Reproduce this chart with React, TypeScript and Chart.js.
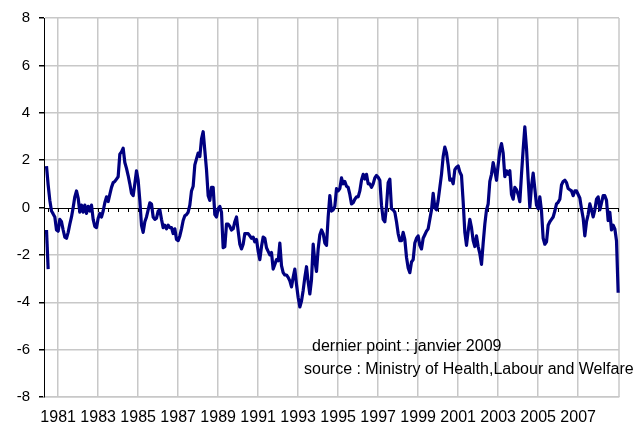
import React, { useEffect, useRef } from 'react';
import { Chart, registerables } from 'chart.js';

Chart.register(...registerables);

// Monthly categories: May 1980 (empty) .. January 2009
const START_YEAR = 1980;
const START_MONTH = 5;
const MONTH_COUNT = 345;
const monthLabels: string[] = Array.from({ length: MONTH_COUNT }, (_, k) => {
  const m = START_MONTH - 1 + k;
  const y = START_YEAR + Math.floor(m / 12);
  const mm = (m % 12) + 1;
  return `${y}-${String(mm).padStart(2, '0')}`;
});

const yearTickLabels = ['1981', '1983', '1985', '1987', '1989', '1991', '1993', '1995', '1997', '1999', '2001', '2003', '2005', '2007'];
const yTickValues = [-8, -6, -4, -2, 0, 2, 4, 6, 8];

// Short separate segment at the very start
const leadSegment = [null, -0.95, -2.6];

// Main series, by year (1980 starts in May with an empty month)
const v1980 = [null, 1.75, 0.95, 0.3, -0.15, -0.27, -0.4, -0.95];
const v1981 = [-1.0, -0.5, -0.6, -0.95, -1.25, -1.3, -1.05, -0.7, -0.4, 0.0, 0.45, 0.7];
const v1982 = [0.4, -0.2, 0.1, -0.2, 0.1, -0.25, 0.05, -0.15, 0.1, -0.5, -0.8, -0.85];
const v1983 = [-0.45, -0.25, -0.4, -0.15, 0.2, 0.45, 0.25, 0.55, 0.85, 1.05, 1.1, 1.2];
const v1984 = [1.3, 2.25, 2.35, 2.5, 1.9, 1.65, 1.35, 1.0, 0.6, 0.5, 1.0, 1.55];
const v1985 = [1.15, 0.3, -0.75, -1.05, -0.6, -0.4, -0.1, 0.2, 0.15, -0.4, -0.5, -0.45];
const v1986 = [-0.15, -0.1, -0.5, -0.85, -0.75, -0.9, -0.75, -0.85, -0.85, -1.1, -0.9, -1.35];
const v1987 = [-1.4, -1.2, -0.9, -0.55, -0.35, -0.3, -0.2, 0.1, 0.7, 0.9, 1.8, 2.05];
const v1988 = [2.3, 2.15, 2.9, 3.2, 2.4, 1.6, 0.5, 0.3, 0.85, 0.85, -0.3, -0.4];
const v1989 = [-0.05, 0.05, -0.2, -1.7, -1.65, -0.7, -0.7, -0.8, -0.95, -0.9, -0.6, -0.4];
const v1990 = [-1.0, -1.55, -1.75, -1.55, -1.1, -1.1, -1.1, -1.2, -1.3, -1.25, -1.45, -1.35];
const v1991 = [-1.85, -2.2, -1.65, -1.25, -1.3, -1.7, -1.85, -2.0, -1.9, -2.6, -2.4, -2.2];
const v1992 = [-2.25, -1.5, -2.45, -2.75, -2.85, -2.85, -2.95, -3.1, -3.35, -2.95, -2.6, -3.25];
const v1993 = [-3.8, -4.2, -3.95, -3.5, -2.95, -2.5, -3.15, -3.65, -3.05, -1.55, -2.25, -2.7];
const v1994 = [-1.75, -1.15, -0.95, -1.1, -1.5, -1.6, -0.4, 0.5, -0.15, -0.1, 0.05, 0.8];
const v1995 = [0.7, 0.8, 1.25, 1.0, 1.1, 0.9, 0.85, 0.55, 0.15, 0.2, 0.35, 0.45];
const v1996 = [0.45, 0.7, 1.15, 1.4, 1.2, 1.4, 1.0, 1.0, 0.85, 1.0, 1.25, 1.35];
const v1997 = [1.27, 1.15, 0.1, -0.5, -0.6, 0.05, 1.05, 1.2, -0.05, -0.1, -0.2, -0.6];
const v1998 = [-1.1, -1.4, -1.4, -1.05, -1.35, -2.1, -2.55, -2.75, -2.3, -2.2, -1.5, -1.3];
const v1999 = [-1.2, -1.6, -1.75, -1.3, -1.15, -1.0, -0.9, -0.5, -0.1, 0.6, 0.0, -0.1];
const v2000 = [0.3, 0.85, 1.4, 2.15, 2.55, 2.3, 1.8, 1.15, 1.2, 1.0, 1.6, 1.7];
const v2001 = [1.75, 1.5, 1.35, 0.25, -1.05, -1.6, -1.0, -0.5, -0.85, -1.4, -1.65, -1.2];
const v2002 = [-1.65, -1.95, -2.4, -1.5, -0.7, -0.1, 0.15, 1.1, 1.4, 1.9, 1.55, 1.15];
const v2003 = [1.8, 2.4, 2.7, 2.3, 1.3, 1.55, 1.4, 1.55, 0.55, 0.35, 0.85, 0.75];
const v2004 = [0.55, 0.25, 1.4, 2.45, 3.4, 2.5, 1.2, 0.0, 0.9, 1.45, 0.8, 0.1];
const v2005 = [-0.05, 0.45, -0.15, -1.3, -1.55, -1.45, -0.75, -0.6, -0.5, -0.4, -0.15, 0.15];
const v2006 = [0.22, 0.35, 0.95, 1.1, 1.15, 1.05, 0.8, 0.75, 0.7, 0.5, 0.7, 0.7];
const v2007 = [0.55, 0.4, -0.05, -0.45, -1.2, -0.6, -0.3, 0.15, -0.1, -0.4, -0.1, 0.35];
const v2008 = [0.45, -0.1, 0.2, 0.5, 0.5, 0.3, -0.55, -0.2, -0.95, -0.75, -0.9, -1.4];
const v2009 = [-3.6];

const mainSeries = [
  ...v1980, ...v1981, ...v1982, ...v1983, ...v1984, ...v1985, ...v1986, ...v1987,
  ...v1988, ...v1989, ...v1990, ...v1991, ...v1992, ...v1993, ...v1994, ...v1995,
  ...v1996, ...v1997, ...v1998, ...v1999, ...v2000, ...v2001, ...v2002, ...v2003,
  ...v2004, ...v2005, ...v2006, ...v2007, ...v2008, ...v2009,
];

const noteLines = ['dernier point : janvier 2009', 'source : Ministry of Health,Labour and Welfare'];

const FONT = '"Liberation Sans", Arial, sans-serif';
const LINE_COLOR = '#000080';
const GRID_COLOR = '#c8c8c8';

const decorPlugin = {
  id: 'decor',
  beforeDatasetsDraw(chart: any) {
    const { ctx, chartArea } = chart;
    const y = chart.scales.y.getPixelForValue(0);
    const xs = chart.scales.x;
    ctx.save();
    // right border
    ctx.strokeStyle = GRID_COLOR;
    ctx.lineWidth = 1.5;
    ctx.beginPath();
    ctx.moveTo(chartArea.right, chartArea.top);
    ctx.lineTo(chartArea.right, chartArea.bottom);
    ctx.stroke();
    // zero axis with half-year ticks
    ctx.strokeStyle = '#000';
    ctx.lineWidth = 1;
    ctx.beginPath();
    ctx.moveTo(chartArea.left, Math.round(y) + 0.5);
    ctx.lineTo(chartArea.right, Math.round(y) + 0.5);
    monthLabels.forEach((lab, i) => {
      const mm = lab.slice(5);
      if (mm === '01' || mm === '07') {
        const x = Math.round(xs.getPixelForValue(i)) + 0.5;
        ctx.moveTo(x, Math.round(y));
        ctx.lineTo(x, Math.round(y) + 4);
      }
    });
    ctx.stroke();
    ctx.restore();
  },
  afterDraw(chart: any) {
    const { ctx } = chart;
    ctx.save();
    ctx.font = `16px ${FONT}`;
    ctx.fillStyle = '#000';
    ctx.textAlign = 'left';
    ctx.textBaseline = 'alphabetic';
    ctx.fillText(noteLines[0], 312, 351);
    ctx.fillText(noteLines[1], 304, 374);
    ctx.restore();
  },
};

export default function App() {
  const ref = useRef<HTMLCanvasElement | null>(null);
  useEffect(() => {
    document.body.style.margin = '0';
    if (!ref.current) return;
    const chart = new Chart(ref.current, {
      type: 'line',
      data: {
        labels: monthLabels,
        datasets: [
          {
            data: mainSeries as any,
            borderColor: LINE_COLOR,
            borderWidth: 3.2,
            pointRadius: 0,
            tension: 0,
            borderJoinStyle: 'round',
            spanGaps: false,
          },
          {
            data: leadSegment as any,
            borderColor: LINE_COLOR,
            borderWidth: 3.2,
            pointRadius: 0,
            tension: 0,
          },
        ],
      },
      options: {
        responsive: false,
        animation: false,
        devicePixelRatio: 1,
        layout: { padding: { left: 0, top: 14, right: 25, bottom: 0 } },
        plugins: { legend: { display: false }, tooltip: { enabled: false } },
        scales: {
          x: {
            type: 'category',
            offset: true,
            afterBuildTicks: (scale: any) => {
              scale.ticks = scale.ticks.filter((t: any) => {
                const lab = monthLabels[t.value];
                return lab && lab.endsWith('-01') && yearTickLabels.includes(lab.slice(0, 4));
              });
            },
            afterFit: (scale: any) => {
              scale.height = 28;
            },
            ticks: {
              autoSkip: false,
              maxRotation: 0,
              minRotation: 0,
              padding: 11,
              color: '#000',
              font: { family: FONT, size: 16 },
              callback: (value: any) => monthLabels[value as number].slice(0, 4),
            },
            grid: { offset: false, color: GRID_COLOR, lineWidth: 1.5, drawTicks: false },
            border: { display: true, color: GRID_COLOR, width: 1.5 },
          },
          y: {
            min: -8,
            max: 8,
            afterBuildTicks: (scale: any) => {
              scale.ticks = yTickValues.map((v) => ({ value: v }));
            },
            afterFit: (scale: any) => {
              scale.width = 44;
            },
            ticks: {
              padding: 9,
              color: '#000',
              font: { family: FONT, size: 15 },
              callback: (v: any) => String(v),
            },
            grid: {
              color: (c: any) => (c.tick && c.tick.value === 0 ? 'rgba(0,0,0,0)' : GRID_COLOR),
              lineWidth: 1.5,
              tickColor: '#000',
              tickLength: 5,
              drawTicks: true,
            },
            border: { display: true, color: '#000', width: 1 },
          },
        },
      },
      plugins: [decorPlugin],
    });
    return () => chart.destroy();
  }, []);
  return <canvas ref={ref} width={644} height={425} style={{ display: 'block' }} />;
}
